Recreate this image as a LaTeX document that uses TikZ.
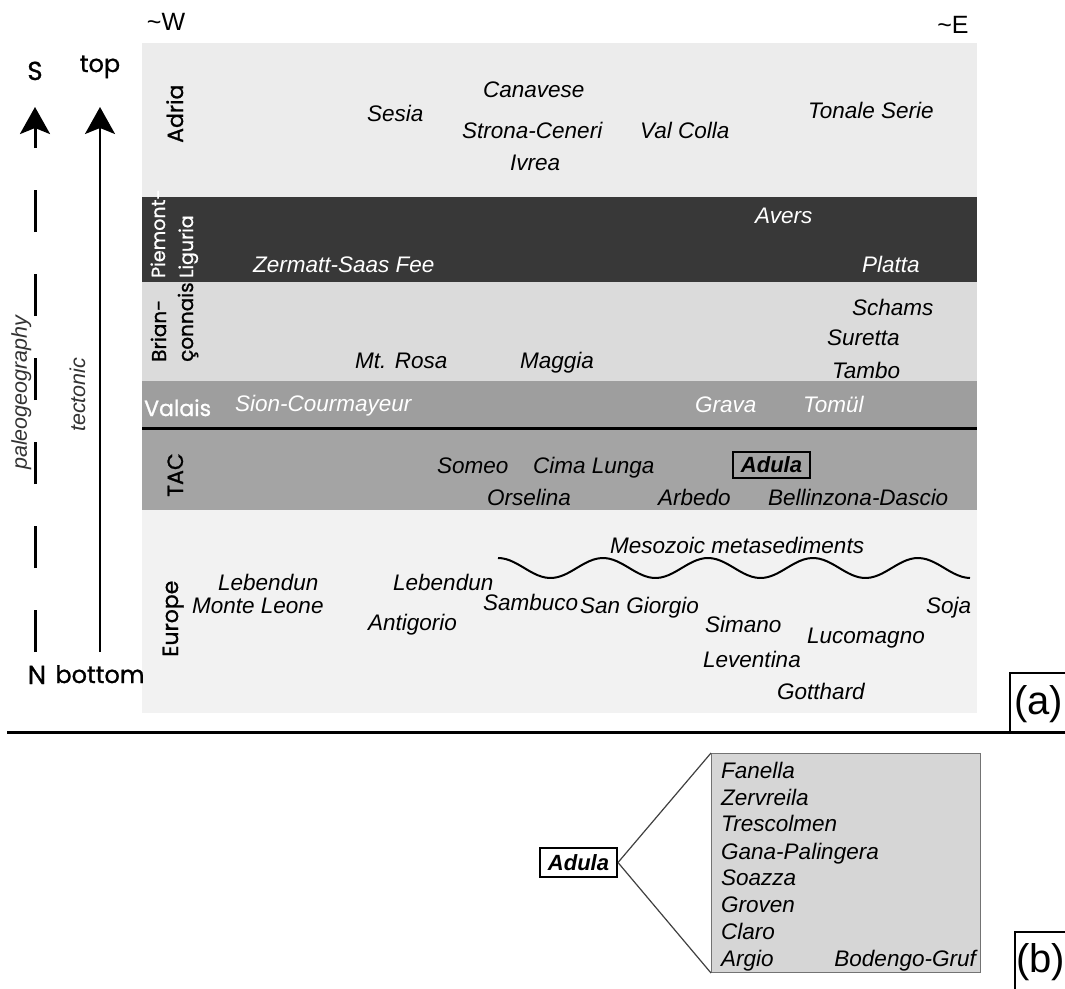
\documentclass[tikz,border=0pt]{standalone}
\usepackage{fontspec}
\setmainfont{Liberation Sans}
\newfontfamily\geo{Poppins}[FakeBold=1]
\usetikzlibrary{arrows.meta}
\definecolor{adria}{gray}{0.925}
\definecolor{piem}{gray}{0.22}
\definecolor{brian}{gray}{0.86}
\definecolor{valais}{gray}{0.62}
\definecolor{tac}{gray}{0.645}
\definecolor{europe}{gray}{0.95}
\definecolor{boxgray}{gray}{0.84}
\begin{document}
\begin{tikzpicture}[x=1pt,y=-1pt,
  lab/.style={font=\fontsize{22.5}{24}\selectfont\itshape, anchor=base west, inner sep=0pt},
  wlab/.style={lab, text=white},
  bandlab/.style={rotate=90, anchor=base west, inner sep=0pt, font=\geo\fontsize{22}{26}\selectfont},
  axislab/.style={anchor=base, inner sep=0pt, font=\geo\fontsize{24}{28}\selectfont},
  sidelab/.style={rotate=90, anchor=base west, inner sep=0pt, text=black!80, font=\fontsize{21.5}{24}\selectfont\itshape},
  boxed/.style={draw, line width=2.5pt, inner sep=0pt, font=\fontsize{22}{24}\selectfont\bfseries\itshape},
  bigtip/.style={-{Stealth[length=27pt,width=30pt,inset=6pt]}},
  panel/.style={anchor=base west, inner sep=0pt, font=\fontsize{40}{44}\selectfont}
]
\useasboundingbox (0,0) rectangle (1065,988);
\fill[white] (0,0) rectangle (1065,988);

% bands
\fill[adria]  (142,43)  rectangle (977,197);
\fill[piem]   (142,197) rectangle (977,282);
\fill[brian]  (142,282) rectangle (977,381);
\fill[valais] (142,381) rectangle (977,428);
\fill[tac]    (142,428) rectangle (977,510);
\fill[europe] (142,510) rectangle (977,713);
\draw[line width=3pt] (142,428) -- (977,428);

% axes
\coordinate (sbot) at (35,652);
\coordinate (stip) at (35,107);
\coordinate (tbot) at (100,652);
\coordinate (ttip) at (100,107);
\draw[line width=3pt, dash pattern=on 42pt off 42pt, bigtip] (sbot) -- (stip);
\draw[line width=2pt, bigtip] (tbot) -- (ttip);
\node[axislab, font=\geo\fontsize{26}{28}\selectfont] (S) at (35,80) {S};
\node[axislab] (top) at (100,72) {top};
\node[axislab, font=\geo\fontsize{26}{28}\selectfont] (N) at (37,684) {N};
\node[axislab] (bottom) at (100,683) {bottom};
\node[sidelab] (paleo) at (27,470) {paleogeography};
\node[sidelab] (tect) at (85,432) {tectonic};
\node[anchor=base, inner sep=0pt, font=\fontsize{25}{28}\selectfont] (W) at (166,30) {\textasciitilde W};
\node[anchor=base, inner sep=0pt, font=\fontsize{25}{28}\selectfont] (E) at (953,33) {\textasciitilde E};

% band names
\node[bandlab] (adrialab) at (183,143) {Adria};
\node[bandlab, text=white, font=\geo\fontsize{19}{22}\selectfont] (piem1) at (165,278) {Piemont-};
\node[bandlab, text=white, font=\geo\fontsize{19}{22}\selectfont] (piem2) at (193,278) {Liguria};
\node[bandlab, font=\geo\fontsize{20}{22}\selectfont] (brian1) at (166,362) {Brian-};
\node[bandlab, font=\geo\fontsize{20}{22}\selectfont] (brian2) at (193,362) {çonnais};
\node[anchor=base west, inner sep=0pt, font=\geo\fontsize{22}{26}\selectfont, text=white] (valaislab) at (144,416) {Valais};
\node[bandlab] (taclab) at (183,497) {TAC};
\node[bandlab] (eurlab) at (178,657) {Europe};

% Adria
\node[lab] (sesia) at (367,121) {Sesia};
\node[lab] (canavese) at (483,97) {Canavese};
\node[lab] (strona) at (462,138) {Strona-Ceneri};
\node[lab] (valcolla) at (640,138) {Val Colla};
\node[lab] (ivrea) at (510,170) {Ivrea};
\node[lab] (tonale) at (808,118) {Tonale Serie};
% Piemont-Liguria
\node[wlab] (zermatt) at (253,272) {Zermatt-Saas Fee};
\node[wlab] (avers) at (755,223) {Avers};
\node[wlab] (platta) at (862,272) {Platta};
% Brianconnais
\node[lab] (schams) at (852,315) {Schams};
\node[lab] (suretta) at (827,345) {Suretta};
\node[lab] (tambo) at (832,378) {Tambo};
\node[lab] (mtrosa) at (355,368) {Mt. Rosa};
\node[lab] (maggia) at (520,368) {Maggia};
% Valais
\node[wlab] (sion) at (235,411) {Sion-Courmayeur};
\node[wlab] (grava) at (695,412) {Grava};
\node[wlab] (tomul) at (803,412) {Tomül};
% TAC
\node[lab] (someo) at (437,473) {Someo};
\node[lab] (cima) at (533,473) {Cima Lunga};
\node[boxed, minimum width=77pt, minimum height=26pt] (adulaA) at (771.5,465) {Adula};
\node[lab] (orselina) at (487,505) {Orselina};
\node[lab] (arbedo) at (658,505) {Arbedo};
\node[lab] (bellinzona) at (768,505) {Bellinzona-Dascio};
% Europe
\node[lab] (meso) at (610,553) {Mesozoic metasediments};
\draw[line width=2pt] plot[smooth, domain=0:472, samples=120] ({498+\x}, {568-10*cos(\x*3.428571)});
\node[lab] (leb1) at (218,590) {Lebendun};
\node[lab] (monteleone) at (192,613) {Monte Leone};
\node[lab] (leb2) at (393,590) {Lebendun};
\node[lab] (antigorio) at (368,630) {Antigorio};
\node[lab] (sambuco) at (483,610) {Sambuco};
\node[lab] (sangiorgio) at (580,613) {San Giorgio};
\node[lab] (simano) at (705,632) {Simano};
\node[lab] (soja) at (926,613) {Soja};
\node[lab] (lucomagno) at (807,643) {Lucomagno};
\node[lab] (leventina) at (703,667) {Leventina};
\node[lab] (gotthard) at (777,699) {Gotthard};

% panel a
\draw[line width=3pt] (7,732) -- (1066,732);
\draw[line width=2pt] (1010,733) -- (1010,673) -- (1066,673);
\node[panel] (pa) at (1014,714) {(a)};

% panel b
\node[boxed, minimum width=77pt, minimum height=29pt, line width=2pt] (adulaB) at (578.5,862.5) {Adula};
\node[draw=black!55, fill=boxgray, line width=1pt, minimum width=269pt, minimum height=219pt, anchor=north west, inner sep=0pt] (listbox) at (711,753) {};
\draw[line width=1.2pt, black!75] (adulaB.east) -- (listbox.north west);
\draw[line width=1.2pt, black!75] (adulaB.east) -- (listbox.south west);
\node[lab] (fanella) at (721,778) {Fanella};
\node[lab] (zervreila) at (721,805) {Zervreila};
\node[lab] (trescolmen) at (721,831) {Trescolmen};
\node[lab] (gana) at (721,859) {Gana-Palingera};
\node[lab] (soazza) at (721,885) {Soazza};
\node[lab] (groven) at (721,912) {Groven};
\node[lab] (claro) at (721,939) {Claro};
\node[lab] (argio) at (721,966) {Argio};
\node[lab, anchor=base east] (bodengo) at (976,966) {Bodengo-Gruf};
\draw[line width=2pt] (1015,989) -- (1015,932) -- (1066,932);
\node[panel] (pb) at (1016,972) {(b)};
\end{tikzpicture}
\end{document}
